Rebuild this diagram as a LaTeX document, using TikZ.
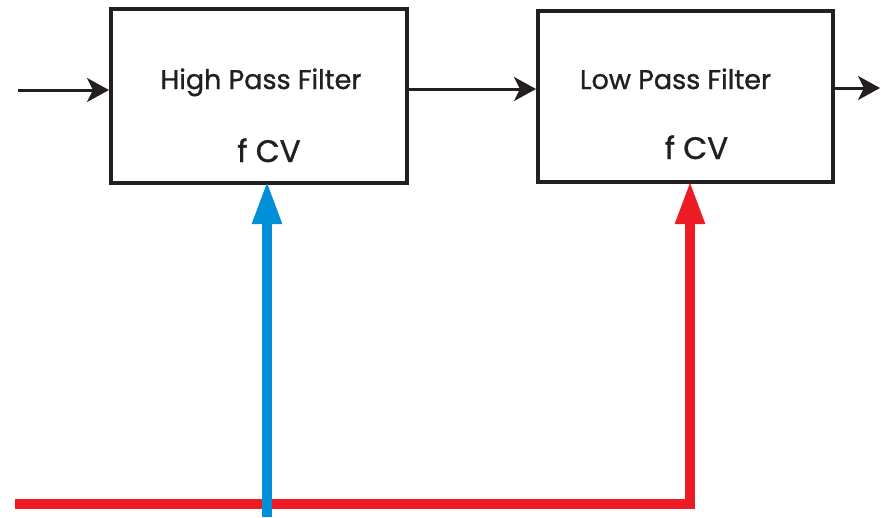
\documentclass[tikz,border=0pt]{standalone}
\usepackage{fontspec}
\setmainfont{Poppins}
\newfontfamily\lblfont[FakeBold=1.1]{Poppins}
\usetikzlibrary{arrows.meta}
\definecolor{cvblue}{RGB}{0,144,216}
\definecolor{cvred}{RGB}{237,28,36}
\definecolor{ink}{RGB}{35,31,32}
\begin{document}
\begin{tikzpicture}[x=1pt,y=-1pt,
  filterbox/.style={draw=ink,line width=4pt,minimum width=#1,inner sep=0pt},
  lbl/.style={font=\lblfont\fontsize{27}{30}\selectfont,text=ink,inner sep=0pt,anchor=base},
  cvlbl/.style={lbl,font=\lblfont\fontsize{31}{34}\selectfont},
  sig/.style={draw=ink,line width=3pt,-{Stealth[length=22pt,width=24pt,inset=6pt]}},
  cv/.style={line width=10.5pt,-{Triangle[length=44pt,width=27pt]}}]
\useasboundingbox (0,0) rectangle (892,517);
\node[filterbox=296pt,minimum height=174pt] (hpf) at (259,96) {};
\node[filterbox=295pt,minimum height=171pt] (lpf) at (685.5,96.5) {};
\node[lbl] (hpft) at (261,89) {High Pass Filter};
\node[cvlbl] (hpfcv) at (269,162) {f CV};
\node[lbl] (lpft) at (675.5,89) {Low Pass Filter};
\node[cvlbl] (lpfcv) at (696.5,159) {f CV};
\coordinate (in) at (18,90);
\coordinate (mid) at (407,89);
\coordinate (out) at (880,88);
\coordinate (bstart) at (267,517);
\coordinate (btip) at (267,180);
\coordinate (rstart) at (15,504);
\coordinate (rtip) at (690,180);
\draw[sig] (in) -- (in -| hpf.west);
\draw[sig] (mid -| hpf.east) -- (mid -| lpf.west);
\draw[sig] (out -| lpf.east) -- (out);
\draw[cv,draw=cvred] (rstart) -| (rtip);
\draw[cv,draw=cvblue] (bstart) -- (btip);
\end{tikzpicture}
\end{document}
